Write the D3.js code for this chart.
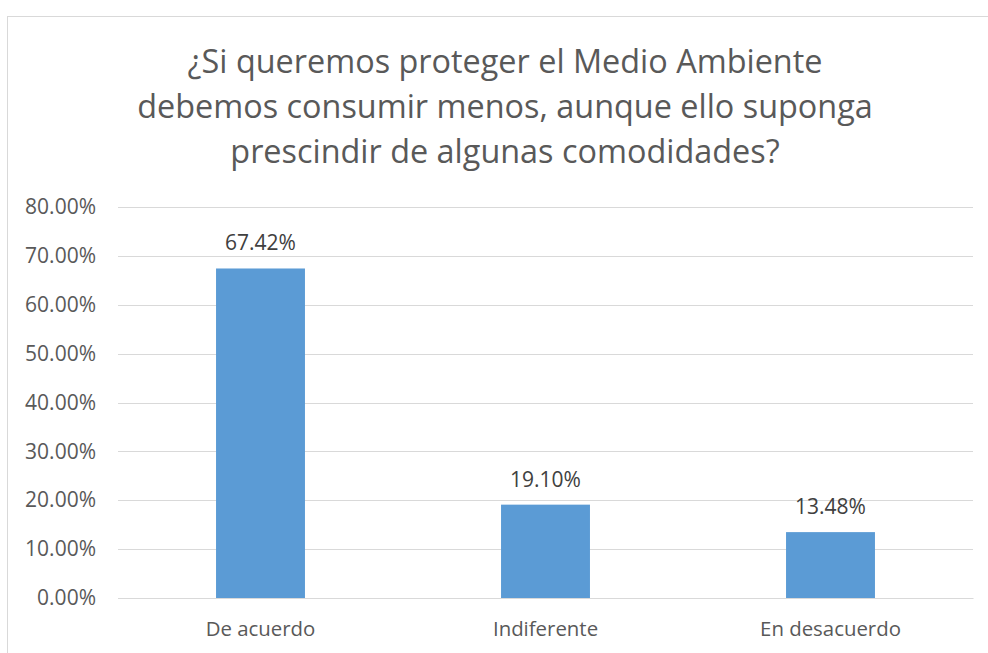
<!DOCTYPE html>
<html><head><meta charset="utf-8">
<script src="https://cdn.jsdelivr.net/npm/d3@7"></script>
<style>body{margin:0;background:#fff;} svg{display:block;}</style>
</head><body>
<script>
const titleLines = ["¿Si queremos proteger el Medio Ambiente", "debemos consumir menos, aunque ello suponga", "prescindir de algunas comodidades?"];
const categories = ["De acuerdo", "Indiferente", "En desacuerdo"];
const values = [0.6742, 0.1910, 0.1348];
const yTicks = [0, 0.1, 0.2, 0.3, 0.4, 0.5, 0.6, 0.7, 0.8];

const W = 988, H = 653;
const font = "'Open Sans', sans-serif";
const textColor = "#595959";
const svg = d3.select("body").append("svg").attr("width", W).attr("height", H);

svg.append("rect").attr("x", 7.5).attr("y", 16.5).attr("width", W + 10).attr("height", H + 10)
  .attr("fill", "#fff").attr("stroke", "#d9d9d9").attr("stroke-width", 1);

const m = {left: 118, right: 973, top: 207, bottom: 598};
const x = d3.scaleBand().domain(categories).range([m.left, m.right]).paddingInner(0.688).paddingOuter(0.344);
const y = d3.scaleLinear().domain([0, 0.8]).range([m.bottom, m.top]);

svg.append("g").selectAll("text").data(titleLines).join("text")
  .attr("x", 505).attr("y", (d, i) => 73 + i * 45)
  .attr("text-anchor", "middle").attr("font-family", font).attr("font-size", 32.4)
  .attr("fill", textColor).text(d => d);

const grid = svg.append("g");
grid.selectAll("line").data(yTicks).join("line")
  .attr("x1", m.left).attr("x2", m.right)
  .attr("y1", d => Math.round(y(d)) + 0.5).attr("y2", d => Math.round(y(d)) + 0.5)
  .attr("stroke", "#d9d9d9").attr("stroke-width", 1);

const yAxis = d3.axisLeft(y).tickValues(yTicks).tickFormat(d3.format(".2%")).tickSize(0).tickPadding(22);
const ya = svg.append("g").attr("transform", `translate(${m.left},0)`).call(yAxis);
ya.select(".domain").remove();
ya.selectAll("text").attr("font-family", font).attr("font-size", 21).attr("fill", textColor);

const xAxis = d3.axisBottom(x).tickSize(0).tickPadding(24);
const xa = svg.append("g").attr("transform", `translate(0,${m.bottom})`).call(xAxis);
xa.select(".domain").attr("stroke", "#d9d9d9");
xa.selectAll("text").attr("font-family", font).attr("font-size", 20.4).attr("fill", textColor);

svg.append("g").selectAll("rect").data(values).join("rect")
  .attr("x", (d, i) => x(categories[i])).attr("width", x.bandwidth())
  .attr("y", d => y(d)).attr("height", d => y(0) - y(d))
  .attr("fill", "#5b9bd5");

svg.append("g").selectAll("text").data(values).join("text")
  .attr("x", (d, i) => x(categories[i]) + x.bandwidth() / 2)
  .attr("y", d => y(d) - 18)
  .attr("text-anchor", "middle").attr("font-family", font).attr("font-size", 21)
  .attr("fill", "#404040").text(d => d3.format(".2%")(d));
</script>
</body></html>
